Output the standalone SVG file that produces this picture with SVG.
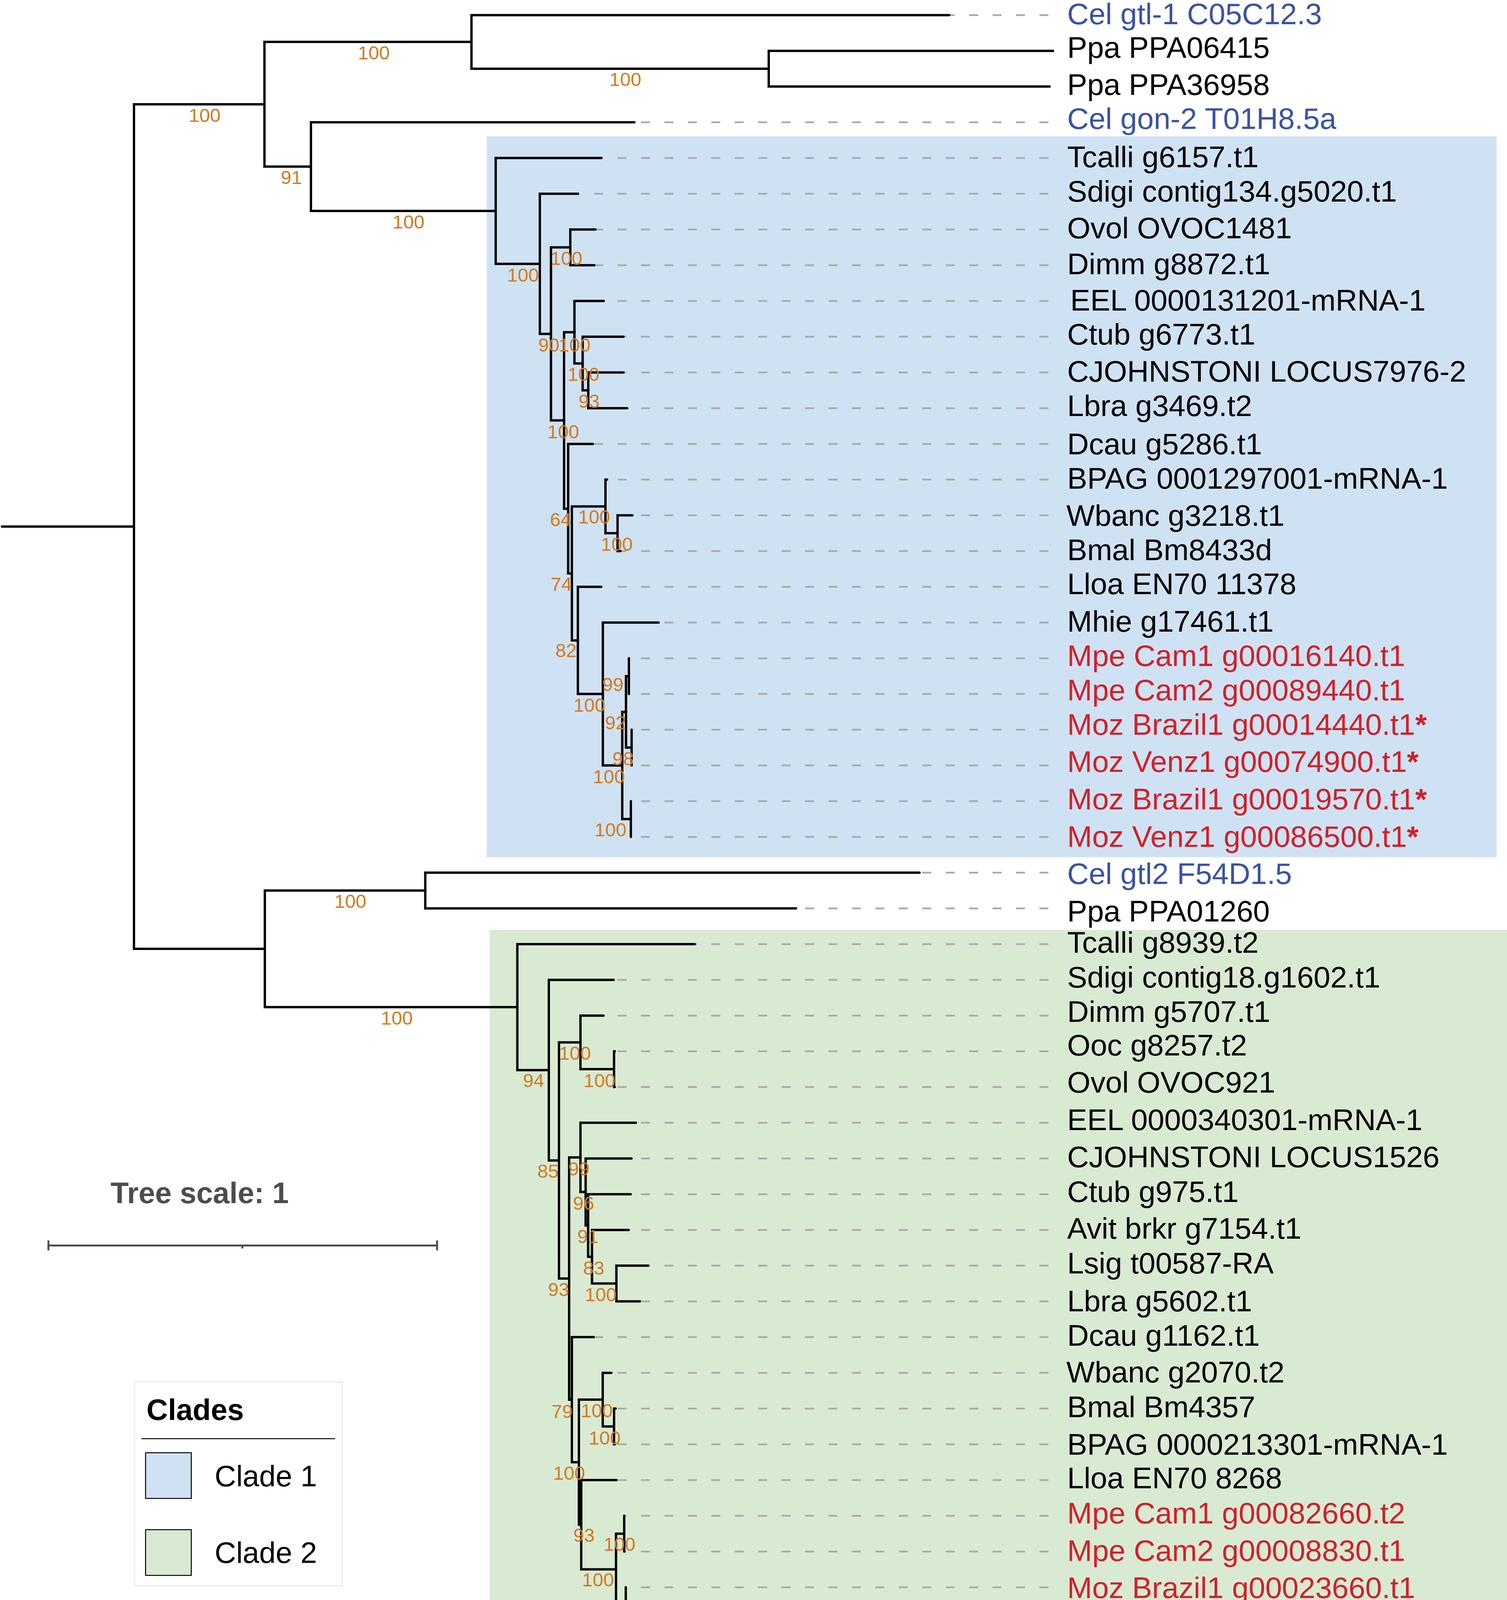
<svg xmlns="http://www.w3.org/2000/svg" width="3858" height="4227" viewBox="0 0 3858 4227">
<style>
.br{fill:none;stroke:#000;stroke-width:6;stroke-linecap:round;stroke-linejoin:miter}
.ld{fill:none;stroke:#aaaaaa;stroke-width:4.5;stroke-dasharray:23 37}
.lb{font-family:'Liberation Sans',Arial,sans-serif;font-size:76.7px;fill:#000}
.cel{fill:#3953a4}
.red{fill:#d0202a}
.bs{font-family:'Liberation Sans',Arial,sans-serif;font-size:49px;fill:#d2791f;text-anchor:middle}
.st{fill:none;stroke:#4d4d4d;stroke-width:5}
</style>
<rect width="3858" height="4227" fill="#ffffff"/>
<g id="clade-backgrounds">
<rect x="1246" y="349" width="2585.5" height="1845.4" fill="#cfe2f3"/>
<rect x="1253.5" y="2380.4" width="2604.5" height="1841" fill="#d9ead3"/>
</g>
<g id="connectors">
<g id="leaders">
<line class="ld" x1="2430" y1="38.7" x2="2686" y2="38.7" stroke-dashoffset="9"/>
<line class="ld" x1="1624" y1="313.1" x2="2686" y2="313.1" stroke-dashoffset="43"/>
<line class="ld" x1="1539.5" y1="404.6" x2="2686" y2="404.6" stroke-dashoffset="18.5"/>
<line class="ld" x1="1479.4" y1="496.1" x2="2686" y2="496.1" stroke-dashoffset="18.4"/>
<line class="ld" x1="1524.5" y1="587.5" x2="2686" y2="587.5" stroke-dashoffset="3.5"/>
<line class="ld" x1="1521.5" y1="679" x2="2686" y2="679" stroke-dashoffset="0.5"/>
<line class="ld" x1="1545.6" y1="770.5" x2="2686" y2="770.5" stroke-dashoffset="24.6"/>
<line class="ld" x1="1596" y1="862" x2="2686" y2="862" stroke-dashoffset="15"/>
<line class="ld" x1="1596" y1="953.4" x2="2686" y2="953.4" stroke-dashoffset="15"/>
<line class="ld" x1="1605.7" y1="1044.9" x2="2686" y2="1044.9" stroke-dashoffset="24.7"/>
<line class="ld" x1="1517.6" y1="1136.4" x2="2686" y2="1136.4" stroke-dashoffset="56.6"/>
<line class="ld" x1="1554" y1="1227.8" x2="2686" y2="1227.8" stroke-dashoffset="33"/>
<line class="ld" x1="1619" y1="1319.3" x2="2686" y2="1319.3" stroke-dashoffset="38"/>
<line class="ld" x1="1588.4" y1="1410.8" x2="2686" y2="1410.8" stroke-dashoffset="7.4"/>
<line class="ld" x1="1538.7" y1="1502.2" x2="2686" y2="1502.2" stroke-dashoffset="17.7"/>
<line class="ld" x1="1686" y1="1593.7" x2="2686" y2="1593.7" stroke-dashoffset="45"/>
<line class="ld" x1="1610" y1="1685.2" x2="2686" y2="1685.2" stroke-dashoffset="29"/>
<line class="ld" x1="1610" y1="1776.6" x2="2686" y2="1776.6" stroke-dashoffset="29"/>
<line class="ld" x1="1617" y1="1868.1" x2="2686" y2="1868.1" stroke-dashoffset="36"/>
<line class="ld" x1="1617" y1="1959.6" x2="2686" y2="1959.6" stroke-dashoffset="36"/>
<line class="ld" x1="1615" y1="2051" x2="2686" y2="2051" stroke-dashoffset="34"/>
<line class="ld" x1="1615" y1="2142.5" x2="2686" y2="2142.5" stroke-dashoffset="34"/>
<line class="ld" x1="2354" y1="2234" x2="2686" y2="2234" stroke-dashoffset="53"/>
<line class="ld" x1="2038" y1="2325.5" x2="2686" y2="2325.5" stroke-dashoffset="37"/>
<line class="ld" x1="1778.4" y1="2416.9" x2="2686" y2="2416.9" stroke-dashoffset="17.4"/>
<line class="ld" x1="1571" y1="2508.4" x2="2686" y2="2508.4" stroke-dashoffset="50"/>
<line class="ld" x1="1545" y1="2599.9" x2="2686" y2="2599.9" stroke-dashoffset="24"/>
<line class="ld" x1="1574" y1="2691.3" x2="2686" y2="2691.3" stroke-dashoffset="53"/>
<line class="ld" x1="1574" y1="2782.8" x2="2686" y2="2782.8" stroke-dashoffset="53"/>
<line class="ld" x1="1628" y1="2874.3" x2="2686" y2="2874.3" stroke-dashoffset="47"/>
<line class="ld" x1="1616.7" y1="2965.7" x2="2686" y2="2965.7" stroke-dashoffset="35.7"/>
<line class="ld" x1="1614.6" y1="3057.2" x2="2686" y2="3057.2" stroke-dashoffset="33.6"/>
<line class="ld" x1="1609.6" y1="3148.7" x2="2686" y2="3148.7" stroke-dashoffset="28.6"/>
<line class="ld" x1="1659.4" y1="3240.1" x2="2686" y2="3240.1" stroke-dashoffset="18.4"/>
<line class="ld" x1="1638" y1="3331.6" x2="2686" y2="3331.6" stroke-dashoffset="57"/>
<line class="ld" x1="1520" y1="3423.1" x2="2686" y2="3423.1" stroke-dashoffset="59"/>
<line class="ld" x1="1565" y1="3514.5" x2="2686" y2="3514.5" stroke-dashoffset="44"/>
<line class="ld" x1="1576" y1="3606" x2="2686" y2="3606" stroke-dashoffset="55"/>
<line class="ld" x1="1574" y1="3697.5" x2="2686" y2="3697.5" stroke-dashoffset="53"/>
<line class="ld" x1="1578" y1="3788.9" x2="2686" y2="3788.9" stroke-dashoffset="57"/>
<line class="ld" x1="1598" y1="3880.4" x2="2686" y2="3880.4" stroke-dashoffset="17"/>
<line class="ld" x1="1598" y1="3971.9" x2="2686" y2="3971.9" stroke-dashoffset="17"/>
<line class="ld" x1="1602" y1="4063.4" x2="2686" y2="4063.4" stroke-dashoffset="21"/>
<line class="ld" x1="1602" y1="4154.8" x2="2686" y2="4154.8" stroke-dashoffset="21"/>
</g>
<g id="branches">
<path class="br" d="M5,1348 H343"/>
<path class="br" d="M677,266.9 H343 V2429 H678"/>
<path class="br" d="M1207,107.3 H677 V426.55 H796"/>
<path class="br" d="M2430,38.7 H1207 V175.9 H1968"/>
<path class="br" d="M2696,130.2 H1968 V221.6 H2687"/>
<path class="br" d="M1624,313.1 H796 V540 H1269"/>
<path class="br" d="M1539.5,404.6 H1269 V675.45 H1382"/>
<path class="br" d="M1479.4,496.1 H1382 V854.8 H1410.5"/>
<path class="br" d="M1460,633.25 H1410.5 V1076.3 H1444"/>
<path class="br" d="M1524.5,587.5 H1460 V679 H1521.5"/>
<path class="br" d="M1470.6,850.5 H1444 V1302.15 H1454.5"/>
<path class="br" d="M1545.6,770.5 H1470.6 V930.6 H1491.6"/>
<path class="br" d="M1596,862 H1491.6 V999.15 H1506"/>
<path class="br" d="M1596,953.4 H1506 V1044.9 H1605.7"/>
<path class="br" d="M1517.6,1136.4 H1454.5 V1467.9 H1464"/>
<path class="br" d="M1550,1296.4 H1464 V1639.4 H1479.4"/>
<path class="br" d="M1554,1227.8 H1550 V1365.05 H1581"/>
<path class="br" d="M1619,1319.3 H1581 V1410.8 H1588.4"/>
<path class="br" d="M1538.7,1502.2 H1479.4 V1776.6 H1543.3"/>
<path class="br" d="M1686,1593.7 H1543.3 V1959.6 H1593"/>
<path class="br" d="M1602.6,1822.4 H1593 V2096.75 H1615"/>
<path class="br" d="M1610,1730.9 H1602.6 V1913.85 H1617"/>
<path class="br" d="M1610,1685.2 V1776.6"/>
<path class="br" d="M1617,1868.1 V1959.6"/>
<path class="br" d="M1615,2051 V2142.5"/>
<path class="br" d="M1088.7,2279.75 H678 V2578.25 H1324.4"/>
<path class="br" d="M2354,2234 H1088.7 V2325.5 H2038"/>
<path class="br" d="M1778.4,2416.9 H1324.4 V2739.6 H1405"/>
<path class="br" d="M1571,2508.4 H1405 V2970.75 H1431"/>
<path class="br" d="M1486,2668.5 H1431 V3273 H1457"/>
<path class="br" d="M1545,2599.9 H1486 V2737.05 H1572"/>
<path class="br" d="M1574,2691.3 H1572 V2782.8 H1574"/>
<path class="br" d="M1486,2962.9 H1457 V3583.15 H1464"/>
<path class="br" d="M1628,2874.3 H1486 V3051.5 H1499.3"/>
<path class="br" d="M1616.7,2965.7 H1499.3 V3137.25 H1505.6"/>
<path class="br" d="M1614.6,3057.2 H1505.6 V3217.3 H1515.5"/>
<path class="br" d="M1609.6,3148.7 H1515.5 V3285.85 H1578"/>
<path class="br" d="M1659.4,3240.1 H1578 V3331.6 H1638"/>
<path class="br" d="M1520,3423.1 H1464 V3743.2 H1482"/>
<path class="br" d="M1543,3583.1 H1482 V3903.25 H1488"/>
<path class="br" d="M1565,3514.5 H1543 V3651.75 H1572"/>
<path class="br" d="M1576,3606 H1572 V3697.5 H1574"/>
<path class="br" d="M1578,3788.9 H1488 V4017.6 H1577"/>
<path class="br" d="M1598,3926.15 H1577 V4109.1 H1602"/>
<path class="br" d="M1598,3880.4 V3971.9"/>
<path class="br" d="M1602,4063.4 V4154.8"/>
</g>
<g id="bootstrap">
<text class="bs" x="524" y="312">100</text>
<text class="bs" x="957" y="152">100</text>
<text class="bs" x="1601" y="220">100</text>
<text class="bs" x="746" y="471">91</text>
<text class="bs" x="1046" y="585">100</text>
<text class="bs" x="1339" y="721">100</text>
<text class="bs" x="1450" y="678">100</text>
<text class="bs" x="1405" y="900">90</text>
<text class="bs" x="1471" y="900">100</text>
<text class="bs" x="1442" y="1122">100</text>
<text class="bs" x="1494" y="975">100</text>
<text class="bs" x="1508" y="1044">93</text>
<text class="bs" x="1435" y="1347">64</text>
<text class="bs" x="1437" y="1512">74</text>
<text class="bs" x="1521" y="1340">100</text>
<text class="bs" x="1579" y="1410">100</text>
<text class="bs" x="1449" y="1682">82</text>
<text class="bs" x="1509" y="1822">100</text>
<text class="bs" x="1559" y="2005">100</text>
<text class="bs" x="1569" y="1769">99</text>
<text class="bs" x="1576" y="1867">92</text>
<text class="bs" x="1595" y="1959">98</text>
<text class="bs" x="1563" y="2141">100</text>
<text class="bs" x="897" y="2324">100</text>
<text class="bs" x="1016" y="2623">100</text>
<text class="bs" x="1366" y="2783">94</text>
<text class="bs" x="1403" y="3015">85</text>
<text class="bs" x="1472" y="2713">100</text>
<text class="bs" x="1535" y="2783">100</text>
<text class="bs" x="1430" y="3318">93</text>
<text class="bs" x="1482" y="3009">99</text>
<text class="bs" x="1494" y="3097">96</text>
<text class="bs" x="1505" y="3182">91</text>
<text class="bs" x="1520" y="3263">83</text>
<text class="bs" x="1538" y="3331">100</text>
<text class="bs" x="1439" y="3630">79</text>
<text class="bs" x="1457" y="3788">100</text>
<text class="bs" x="1528" y="3628">100</text>
<text class="bs" x="1548" y="3698">100</text>
<text class="bs" x="1495" y="3947">93</text>
<text class="bs" x="1531" y="4061">100</text>
<text class="bs" x="1586" y="3970">100</text>
<text class="bs" x="1588" y="4153">100</text>
</g>
</g>
<g id="leaf-1"><text class="lb cel" x="2732" y="62">Cel gtl-1 C05C12.3</text></g>
<g id="leaf-2"><text class="lb" x="2732" y="148">Ppa PPA06415</text></g>
<g id="leaf-3"><text class="lb" x="2732" y="243">Ppa PPA36958</text></g>
<g id="leaf-4"><text class="lb cel" x="2732" y="330">Cel gon-2 T01H8.5a</text></g>
<g id="leaf-5"><text class="lb" x="2732" y="428">Tcalli g6157.t1</text></g>
<g id="leaf-6"><text class="lb" x="2732" y="516">Sdigi contig134.g5020.t1</text></g>
<g id="leaf-7"><text class="lb" x="2732" y="610">Ovol OVOC1481</text></g>
<g id="leaf-8"><text class="lb" x="2732" y="702">Dimm g8872.t1</text></g>
<g id="leaf-9"><text class="lb" x="2740" y="795">EEL 0000131201-mRNA-1</text></g>
<g id="leaf-10"><text class="lb" x="2732" y="882">Ctub g6773.t1</text></g>
<g id="leaf-11"><text class="lb" x="2732" y="977">CJOHNSTONI LOCUS7976-2</text></g>
<g id="leaf-12"><text class="lb" x="2732" y="1065">Lbra g3469.t2</text></g>
<g id="leaf-13"><text class="lb" x="2732" y="1163">Dcau g5286.t1</text></g>
<g id="leaf-14"><text class="lb" x="2732" y="1251">BPAG 0001297001-mRNA-1</text></g>
<g id="leaf-15"><text class="lb" x="2730" y="1346">Wbanc g3218.t1</text></g>
<g id="leaf-16"><text class="lb" x="2732" y="1434">Bmal Bm8433d</text></g>
<g id="leaf-17"><text class="lb" x="2732" y="1521">Lloa EN70 11378</text></g>
<g id="leaf-18"><text class="lb" x="2732" y="1617">Mhie g17461.t1</text></g>
<g id="leaf-19"><text class="lb red" x="2732" y="1705">Mpe Cam1 g00016140.t1</text></g>
<g id="leaf-20"><text class="lb red" x="2732" y="1793">Mpe Cam2 g00089440.t1</text></g>
<g id="leaf-21"><text class="lb red" x="2732" y="1881">Moz Brazil1 g00014440.t1<tspan font-weight="bold">*</tspan></text></g>
<g id="leaf-22"><text class="lb red" x="2732" y="1976">Moz Venz1 g00074900.t1<tspan font-weight="bold">*</tspan></text></g>
<g id="leaf-23"><text class="lb red" x="2732" y="2072">Moz Brazil1 g00019570.t1<tspan font-weight="bold">*</tspan></text></g>
<g id="leaf-24"><text class="lb red" x="2732" y="2168">Moz Venz1 g00086500.t1<tspan font-weight="bold">*</tspan></text></g>
<g id="leaf-25"><text class="lb cel" x="2732" y="2263">Cel gtl2 F54D1.5</text></g>
<g id="leaf-26"><text class="lb" x="2732" y="2359">Ppa PPA01260</text></g>
<g id="leaf-27"><text class="lb" x="2732" y="2439">Tcalli g8939.t2</text></g>
<g id="leaf-28"><text class="lb" x="2732" y="2528">Sdigi contig18.g1602.t1</text></g>
<g id="leaf-29"><text class="lb" x="2732" y="2616">Dimm g5707.t1</text></g>
<g id="leaf-30"><text class="lb" x="2732" y="2702">Ooc g8257.t2</text></g>
<g id="leaf-31"><text class="lb" x="2732" y="2797">Ovol OVOC921</text></g>
<g id="leaf-32"><text class="lb" x="2732" y="2893">EEL 0000340301-mRNA-1</text></g>
<g id="leaf-33"><text class="lb" x="2732" y="2988">CJOHNSTONI LOCUS1526</text></g>
<g id="leaf-34"><text class="lb" x="2732" y="3077">Ctub g975.t1</text></g>
<g id="leaf-35"><text class="lb" x="2732" y="3171">Avit brkr g7154.t1</text></g>
<g id="leaf-36"><text class="lb" x="2732" y="3260">Lsig t00587-RA</text></g>
<g id="leaf-37"><text class="lb" x="2732" y="3357">Lbra g5602.t1</text></g>
<g id="leaf-38"><text class="lb" x="2732" y="3445">Dcau g1162.t1</text></g>
<g id="leaf-39"><text class="lb" x="2730" y="3539">Wbanc g2070.t2</text></g>
<g id="leaf-40"><text class="lb" x="2732" y="3628">Bmal Bm4357</text></g>
<g id="leaf-41"><text class="lb" x="2732" y="3724">BPAG 0000213301-mRNA-1</text></g>
<g id="leaf-42"><text class="lb" x="2732" y="3810">Lloa EN70 8268</text></g>
<g id="leaf-43"><text class="lb red" x="2732" y="3900">Mpe Cam1 g00082660.t2</text></g>
<g id="leaf-44"><text class="lb red" x="2732" y="3996">Mpe Cam2 g00008830.t1</text></g>
<g id="leaf-45"><text class="lb red" x="2732" y="4091">Moz Brazil1 g00023660.t1</text></g>
<g id="leaf-46"><text class="lb red" x="2732" y="4179">Moz Venz1 g00026640.t1</text></g>
<g id="scale-bar">
<text x="283" y="3080" font-family="'Liberation Sans',Arial,sans-serif" font-size="76" font-weight="bold" fill="#4d4d4d">Tree scale: 1</text>
<path class="st" d="M124,3188.5 H1119 M124,3175.5 V3201 M1119,3175.5 V3201 M620.5,3188.5 V3196"/>
</g>
<g id="legend">
<rect x="344.4" y="3537.5" width="531.8" height="522" fill="#ffffff" stroke="#e6e6e6" stroke-width="2.5"/>
<text x="375" y="3635" font-family="'Liberation Sans',Arial,sans-serif" font-size="76" font-weight="bold" fill="#000">Clades</text>
<line x1="362" y1="3683" x2="858" y2="3683" stroke="#000" stroke-width="2.5"/>
<g id="legend-clade-1">
<rect x="372.7" y="3719" width="117" height="117" fill="#cfe2f3" stroke="#000" stroke-width="2.5"/>
<text x="549.5" y="3805" font-family="'Liberation Sans',Arial,sans-serif" font-size="76" fill="#000">Clade 1</text>
</g>
<g id="legend-clade-2">
<rect x="372.7" y="3916" width="117" height="117" fill="#d9ead3" stroke="#000" stroke-width="2.5"/>
<text x="549.5" y="4000.5" font-family="'Liberation Sans',Arial,sans-serif" font-size="76" fill="#000">Clade 2</text>
</g>
</g>
</svg>
